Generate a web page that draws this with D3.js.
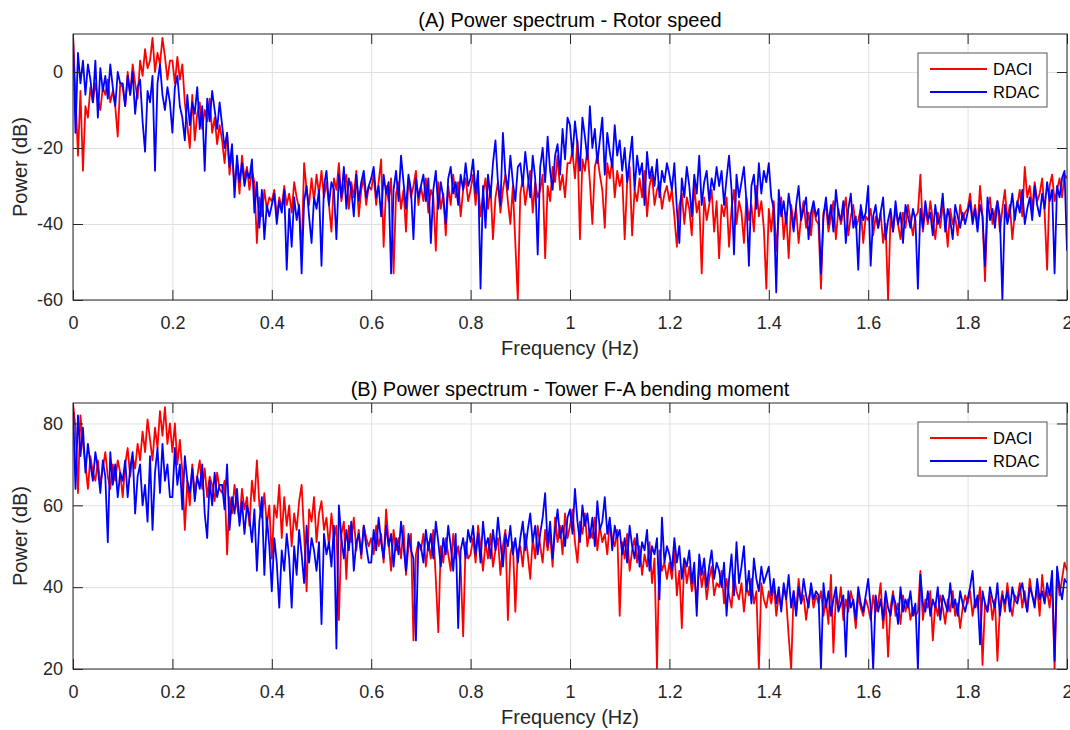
<!DOCTYPE html>
<html>
<head>
<meta charset="utf-8">
<script src="https://cdn.jsdelivr.net/npm/d3@7"></script>
<style>
  body { margin: 0; background: #fff; }
  svg { display: block; font-family: "Liberation Sans", Arial, Helvetica, sans-serif; }
</style>
</head>
<body>
<div id="chart"></div>
<script>
const FREQ_STEP = 0.005;
const seriesNames = ["DACI", "RDAC"];
const seriesColors = ["#ff0000", "#0000ff"];
const xTicks = [0, 0.2, 0.4, 0.6, 0.8, 1, 1.2, 1.4, 1.6, 1.8, 2];
const rotorYTicks = [-60, -40, -20, 0];
const towerYTicks = [20, 40, 60, 80];

// (A) rotor speed
const rotorDACI = [
  10, -6, -22, -5, -26, -9, -12, -4, -8, -3, -7, -10, -4, -6, -2, -8, -5, -9, -17, -3,
  -4, -9, 0, -6, 2, -3, -7, 3, -1, 6, 1, 3, 9, 0, 5, 2, 9, 4, -2, 3,
  3, -3, 4, -2, 2, -8, -14, -20, -6, -18, -11, -8, -15, -10, -13, -7, -16, -12, -19, -14,
  -18, -24, -16, -27, -21, -30, -24, -32, -22, -28, -25, -31, -26, -29, -45, -33, -38, -31, -36, -33,
  -34, -31, -38, -33, -36, -30, -35, -32, -37, -29, -33, -36, -48, -24, -31, -35, -28, -34, -27, -32,
  -26, -33, -29, -35, -42, -28, -31, -24, -34, -30, -27, -36, -29, -33, -26, -38, -31, -28, -35, -30,
  -31, -27, -35, -29, -23, -46, -30, -34, -28, -53, -32, -29, -36, -31, -42, -28, -33, -30, -26, -35,
  -30, -34, -28, -37, -31, -33, -47, -29, -36, -32, -43, -30, -35, -27, -33, -29, -38, -31, -28, -34,
  -31, -27, -35, -29, -38, -32, -28, -36, -30, -44, -33, -29, -37, -31, -27, -34, -40, -30, -45, -60,
  -32, -28, -35, -30, -26, -37, -29, -33, -31, -27, -49, -30, -34, -25, -29, -22, -31, -27, -33, -24,
  -24, -21, -28, -18, -44, -23, -26, -20, -29, -40, -25, -22, -27, -31, -41, -24, -28, -23, -33, -26,
  -30, -27, -44, -29, -25, -43, -31, -34, -28, -33, -26, -38, -30, -27, -35, -31, -29, -36, -32, -30,
  -34, -31, -38, -46, -35, -32, -40, -33, -36, -43, -30, -37, -34, -53, -33, -39, -35, -31, -42, -34,
  -49, -35, -38, -33, -46, -36, -31, -40, -34, -37, -45, -33, -39, -35, -42, -30, -38, -34, -41, -57,
  -36, -42, -34, -47, -38, -33, -44, -37, -49, -35, -40, -36, -45, -38, -34, -41, -37, -43, -35, -39,
  -40, -57, -37, -35, -42, -38, -34, -44, -36, -40, -37, -33, -43, -38, -35, -41, -39, -36, -45, -38,
  -39, -36, -43, -38, -41, -37, -45, -40, -60, -38, -42, -36, -40, -44, -37, -41, -35, -39, -43, -38,
  -37, -27, -42, -36, -40, -34, -39, -44, -37, -41, -35, -38, -46, -36, -40, -38, -43, -35, -39, -37,
  -36, -32, -39, -35, -41, -30, -38, -55, -36, -33, -40, -37, -34, -42, -36, -31, -39, -35, -44, -37,
  -35, -31, -38, -25, -33, -30, -36, -29, -34, -32, -28, -37, -52, -30, -27, -34, -31, -28, -33, -27,
  -28
];
const rotorRDAC = [
  10, -16, 5, -3, 3, -6, 2, -2, -8, 3, -12, 1, -5, -1, -7, 2, -4, -9, 0, -3,
  -3, -9, -1, -6, 0, -11, -4, -2, -13, -21, -5, -8, -1, -26, -3, 2, -6, -10, -4, -8,
  -16, -4, -1, -9, -12, -18, -6, -14, -8, -11, -4, -15, -9, -26, -7, -13, -5, -10, -15, -8,
  -14, -20, -16, -25, -19, -33, -22, -29, -24, -30, -26, -28, -23, -37, -29, -41, -31, -44, -35, -38,
  -35, -32, -40, -34, -37, -31, -52, -36, -46, -33, -39, -35, -53, -34, -30, -38, -45, -33, -36, -31,
  -51, -30, -26, -35, -29, -31, -44, -27, -33, -25, -36, -28, -31, -38, -27, -34, -29, -26, -33, -30,
  -28, -25, -33, -30, -38, -27, -32, -29, -53, -31, -26, -34, -22, -29, -36, -27, -31, -44, -28, -33,
  -30, -27, -34, -28, -45, -31, -26, -36, -29, -33, -40, -28, -25, -32, -29, -35, -27, -31, -24, -30,
  -28, -23, -32, -26, -57, -30, -41, -27, -33, -24, -18, -29, -35, -16, -27, -31, -22, -29, -34, -25,
  -24, -30, -21, -27, -33, -22, -28, -48, -25, -20, -29, -17, -26, -31, -22, -19, -27, -15, -23, -12,
  -14, -22, -13, -19, -26, -12, -17, -23, -9, -20, -15, -24, -18, -12, -27, -16, -21, -25, -14, -22,
  -18, -26, -20, -29, -23, -17, -31, -22, -27, -24, -35, -21, -28, -25, -30, -23, -33, -26, -29, -24,
  -27, -31, -24, -36, -45, -28, -33, -25, -30, -38, -27, -32, -22, -35, -29, -26, -34, -28, -31, -25,
  -30, -26, -35, -28, -22, -31, -48, -27, -33, -29, -25, -34, -51, -30, -27, -36, -24, -32, -26, -29,
  -24, -33, -36, -58, -31, -38, -34, -40, -32, -37, -42, -35, -30, -39, -36, -33, -44, -37, -34, -38,
  -36, -53, -38, -33, -40, -35, -42, -31, -37, -39, -34, -45, -36, -32, -41, -38, -52, -35, -39, -37,
  -30, -51, -38, -35, -41, -37, -33, -44, -39, -36, -42, -34, -40, -37, -45, -35, -38, -41, -36, -39,
  -57, -36, -41, -34, -39, -37, -43, -35, -40, -38, -32, -42, -36, -39, -44, -35, -38, -41, -37, -40,
  -37, -34, -40, -36, -42, -35, -38, -51, -33, -39, -36, -41, -34, -38, -60, -35, -40, -37, -32, -39,
  -34, -37, -31, -40, -36, -33, -39, -30, -35, -38, -32, -36, -29, -34, -31, -53, -30, -33, -28, -26,
  -47
];

// (B) tower fore-aft bending moment
const towerDACI = [
  85, 79, 63, 82, 75, 70, 64, 72, 68, 66, 71, 65, 69, 73, 67, 64, 70, 66, 71, 68,
  62, 70, 74, 67, 72, 69, 75, 71, 78, 73, 81, 76, 71, 79, 74, 83, 77, 84, 75, 80,
  73, 80, 70, 76, 68, 54, 66, 60, 70, 63, 67, 71, 64, 69, 62, 67, 65, 61, 68, 64,
  63, 66, 48, 62, 58, 65, 60, 56, 64, 59, 62, 55, 66, 61, 71, 60, 57, 63, 55, 60,
  47, 60, 57, 65, 52, 62, 55, 60, 50, 58, 54, 61, 65, 53, 39, 59, 56, 62, 51, 58,
  61, 54, 57, 50, 58, 52, 55, 32, 53, 56, 42, 55, 51, 57, 49, 54, 47, 55, 52, 50,
  52, 48, 55, 50, 53, 46, 59, 51, 44, 54, 49, 52, 47, 55, 43, 50, 53, 27, 48, 51,
  49, 53, 45, 51, 47, 54, 42, 29, 50, 46, 52, 48, 44, 53, 47, 50, 45, 28, 51, 47,
  48, 52, 46, 55, 50, 44, 51, 47, 53, 45, 49, 52, 43, 50, 54, 32, 48, 51, 34, 49,
  50, 45, 53, 48, 42, 52, 47, 55, 50, 46, 54, 49, 53, 45, 57, 51, 55, 48, 58, 52,
  55, 59, 51, 46, 56, 53, 58, 50, 54, 52, 57, 49, 55, 51, 53, 48, 56, 52, 50, 54,
  33, 51, 47, 53, 44, 49, 52, 46, 50, 43, 48, 45, 51, 41, 47, 20, 49, 44, 46, 42,
  46, 42, 49, 38, 44, 30, 47, 41, 45, 39, 43, 36, 46, 40, 44, 37, 42, 45, 38, 41,
  40, 44, 36, 42, 38, 35, 43, 39, 37, 41, 34, 40, 38, 42, 36, 39, 20, 41, 37, 35,
  39, 36, 41, 33, 38, 35, 40, 37, 28, 20, 39, 34, 42, 36, 38, 32, 37, 40, 35, 38,
  36, 39, 33, 37, 31, 43, 24, 38, 35, 40, 32, 37, 34, 39, 36, 30, 38, 35, 33, 37,
  35, 32, 38, 34, 36, 41, 30, 37, 23, 35, 39, 33, 36, 31, 38, 34, 37, 32, 35, 33,
  34, 44, 32, 37, 35, 39, 27, 36, 33, 38, 35, 31, 37, 34, 39, 33, 36, 30, 35, 38,
  36, 39, 33, 37, 35, 40, 21, 36, 34, 38, 32, 37, 22, 35, 39, 34, 41, 36, 33, 38,
  37, 41, 35, 39, 34, 42, 38, 36, 40, 33, 43, 37, 39, 35, 41, 20, 44, 38, 42, 46,
  44
];
const towerRDAC = [
  85, 64, 82, 72, 79, 68, 75, 70, 66, 73, 69, 63, 71, 67, 51, 73, 65, 70, 62, 68,
  66, 71, 62, 69, 73, 58, 67, 70, 60, 65, 56, 72, 54, 68, 74, 63, 75, 66, 70, 62,
  62, 74, 65, 70, 59, 72, 66, 63, 69, 61, 67, 64, 70, 58, 52, 66, 60, 68, 62, 65,
  65, 59, 70, 54, 62, 58, 64, 55, 61, 53, 60, 57, 51, 59, 44, 56, 62, 43, 57, 50,
  39, 52, 46, 35, 49, 44, 53, 47, 35, 50, 43, 54, 48, 41, 55, 46, 52, 49, 44, 51,
  31, 53, 48, 51, 45, 55, 25, 60, 52, 47, 54, 49, 56, 44, 51, 53, 48, 55, 50, 46,
  46, 54, 49, 57, 51, 47, 55, 50, 53, 45, 52, 48, 56, 50, 44, 53, 49, 47, 27, 51,
  50, 46, 54, 49, 53, 47, 56, 51, 45, 52, 48, 55, 50, 44, 53, 30, 49, 52, 47, 54,
  51, 55, 48, 53, 46, 56, 50, 52, 47, 54, 49, 57, 51, 45, 53, 50, 55, 48, 52, 46,
  52, 56, 49, 54, 58, 51, 55, 48, 53, 57, 63, 50, 56, 47, 54, 59, 52, 55, 50, 57,
  59, 53, 64, 56, 51, 60, 55, 58, 52, 57, 50, 61, 54, 56, 62, 53, 57, 49, 55, 52,
  54, 48, 52, 46, 55, 50, 47, 53, 45, 51, 49, 54, 44, 50, 48, 52, 37, 57, 46, 50,
  48, 44, 52, 46, 50, 42, 47, 45, 49, 41, 46, 33, 48, 43, 47, 40, 45, 49, 42, 46,
  44, 40, 46, 33, 42, 48, 38, 51, 41, 45, 50, 39, 44, 36, 47, 42, 39, 45, 41, 43,
  45, 38, 42, 36, 40, 34, 41, 37, 43, 35, 39, 33, 40, 36, 42, 38, 35, 41, 37, 39,
  38, 20, 41, 35, 39, 33, 37, 40, 34, 36, 38, 23, 39, 35, 37, 32, 40, 36, 34, 38,
  42, 35, 20, 38, 34, 37, 32, 39, 35, 33, 38, 36, 31, 40, 34, 37, 35, 39, 33, 36,
  20, 43, 36, 34, 39, 33, 37, 35, 40, 32, 38, 36, 34, 41, 35, 37, 33, 39, 36, 34,
  37, 40, 44, 35, 38, 26, 39, 36, 34, 40, 37, 35, 41, 33, 38, 36, 39, 34, 40, 37,
  36, 39, 41, 37, 34, 40, 38, 35, 42, 37, 39, 36, 41, 38, 44, 22, 45, 40, 37, 42,
  41
];

[rotorDACI, rotorRDAC, towerDACI, towerRDAC].forEach((s, i) => {
  if (s.length !== 401) throw new Error("series " + i + " has " + s.length + " points");
});

const W = 1070, H = 730;
const X_LEFT = 73, X_RIGHT = 1067;
const TICK_LEN = 10;
const AXIS_COLOR = "#262626";

const panels = [
  { title: "(A) Power spectrum - Rotor speed", top: 34, bottom: 300,
    yDomain: [-60, 10], yTicks: rotorYTicks, data: [rotorDACI, rotorRDAC] },
  { title: "(B) Power spectrum - Tower F-A bending moment", top: 403, bottom: 669,
    yDomain: [20, 85], yTicks: towerYTicks, data: [towerDACI, towerRDAC] }
];

const svg = d3.select("#chart").append("svg").attr("width", W).attr("height", H);
const x = d3.scaleLinear().domain([0, 2]).range([X_LEFT, X_RIGHT]);
const fmt = d => String(d);

function styleAxis(g, labels) {
  g.select(".domain").remove();
  g.selectAll(".tick line").attr("stroke", AXIS_COLOR);
  g.selectAll(".tick text").attr("fill", AXIS_COLOR).attr("font-size", 18)
    .attr("font-family", "'Liberation Sans', Arial, sans-serif");
  if (!labels) g.selectAll(".tick text").remove();
}

panels.forEach((p, idx) => {
  const plotW = X_RIGHT - X_LEFT, plotH = p.bottom - p.top;
  const y = d3.scaleLinear().domain(p.yDomain).range([p.bottom, p.top]);
  const g = svg.append("g");

  g.append("rect").attr("x", X_LEFT).attr("y", p.top)
    .attr("width", plotW).attr("height", plotH).attr("fill", "#fff");

  // grid
  g.append("g").attr("transform", `translate(0,${p.bottom})`)
    .call(d3.axisBottom(x).tickValues(xTicks).tickSize(-plotH).tickFormat(""))
    .call(s => s.select(".domain").remove())
    .selectAll("line").attr("stroke", "#e0e0e0");
  g.append("g").attr("transform", `translate(${X_LEFT},0)`)
    .call(d3.axisLeft(y).tickValues(p.yTicks).tickSize(-plotW).tickFormat(""))
    .call(s => s.select(".domain").remove())
    .selectAll("line").attr("stroke", "#e0e0e0");

  // curves
  const clipId = "clip" + idx;
  svg.append("clipPath").attr("id", clipId).append("rect")
    .attr("x", X_LEFT).attr("y", p.top).attr("width", plotW).attr("height", plotH);
  const line = d3.line().x((d, i) => x(i * FREQ_STEP)).y(d => y(d));
  p.data.forEach((vals, k) => {
    g.append("path").datum(vals)
      .attr("clip-path", `url(#${clipId})`)
      .attr("fill", "none")
      .attr("stroke", seriesColors[k])
      .attr("stroke-width", 1.8)
      .attr("stroke-linejoin", "round")
      .attr("d", line);
  });

  // axes, ticks pointing inwards on all four sides
  g.append("g").attr("transform", `translate(0,${p.bottom})`)
    .call(d3.axisBottom(x).tickValues(xTicks).tickSize(-TICK_LEN).tickPadding(16).tickFormat(fmt))
    .call(s => styleAxis(s, true));
  g.append("g").attr("transform", `translate(0,${p.top})`)
    .call(d3.axisTop(x).tickValues(xTicks).tickSize(-TICK_LEN))
    .call(s => styleAxis(s, false));
  g.append("g").attr("transform", `translate(${X_LEFT},0)`)
    .call(d3.axisLeft(y).tickValues(p.yTicks).tickSize(-TICK_LEN).tickPadding(10).tickFormat(fmt))
    .call(s => styleAxis(s, true));
  g.append("g").attr("transform", `translate(${X_RIGHT},0)`)
    .call(d3.axisRight(y).tickValues(p.yTicks).tickSize(-TICK_LEN))
    .call(s => styleAxis(s, false));

  g.append("rect").attr("x", X_LEFT).attr("y", p.top)
    .attr("width", plotW).attr("height", plotH)
    .attr("fill", "none").attr("stroke", AXIS_COLOR).attr("stroke-width", 1);

  // title & labels
  const cx = (X_LEFT + X_RIGHT) / 2;
  g.append("text").attr("x", cx).attr("y", p.top - 7)
    .attr("text-anchor", "middle").attr("font-size", 20).attr("fill", "#000")
    .text(p.title);
  g.append("text").attr("x", cx).attr("y", p.bottom + 55)
    .attr("text-anchor", "middle").attr("font-size", 20).attr("fill", AXIS_COLOR)
    .text("Frequency (Hz)");
  g.append("text")
    .attr("transform", `translate(27,${(p.top + p.bottom) / 2}) rotate(-90)`)
    .attr("text-anchor", "middle").attr("font-size", 20).attr("fill", AXIS_COLOR)
    .text("Power (dB)");

  // legend
  const lw = 129, lh = 54;
  const lx = X_RIGHT - 20 - lw, ly = p.top + 19;
  const lg = g.append("g").attr("transform", `translate(${lx},${ly})`);
  lg.append("rect").attr("width", lw).attr("height", lh)
    .attr("fill", "#fff").attr("stroke", "#555").attr("stroke-width", 1);
  seriesNames.forEach((name, k) => {
    const ry = 16 + k * 23;
    lg.append("line").attr("x1", 12).attr("x2", 69).attr("y1", ry).attr("y2", ry)
      .attr("stroke", seriesColors[k]).attr("stroke-width", 1.8);
    lg.append("text").attr("x", 75).attr("y", ry).attr("dy", "0.35em")
      .attr("font-size", 16.5).attr("fill", "#000").text(name);
  });
});
</script>
</body>
</html>
